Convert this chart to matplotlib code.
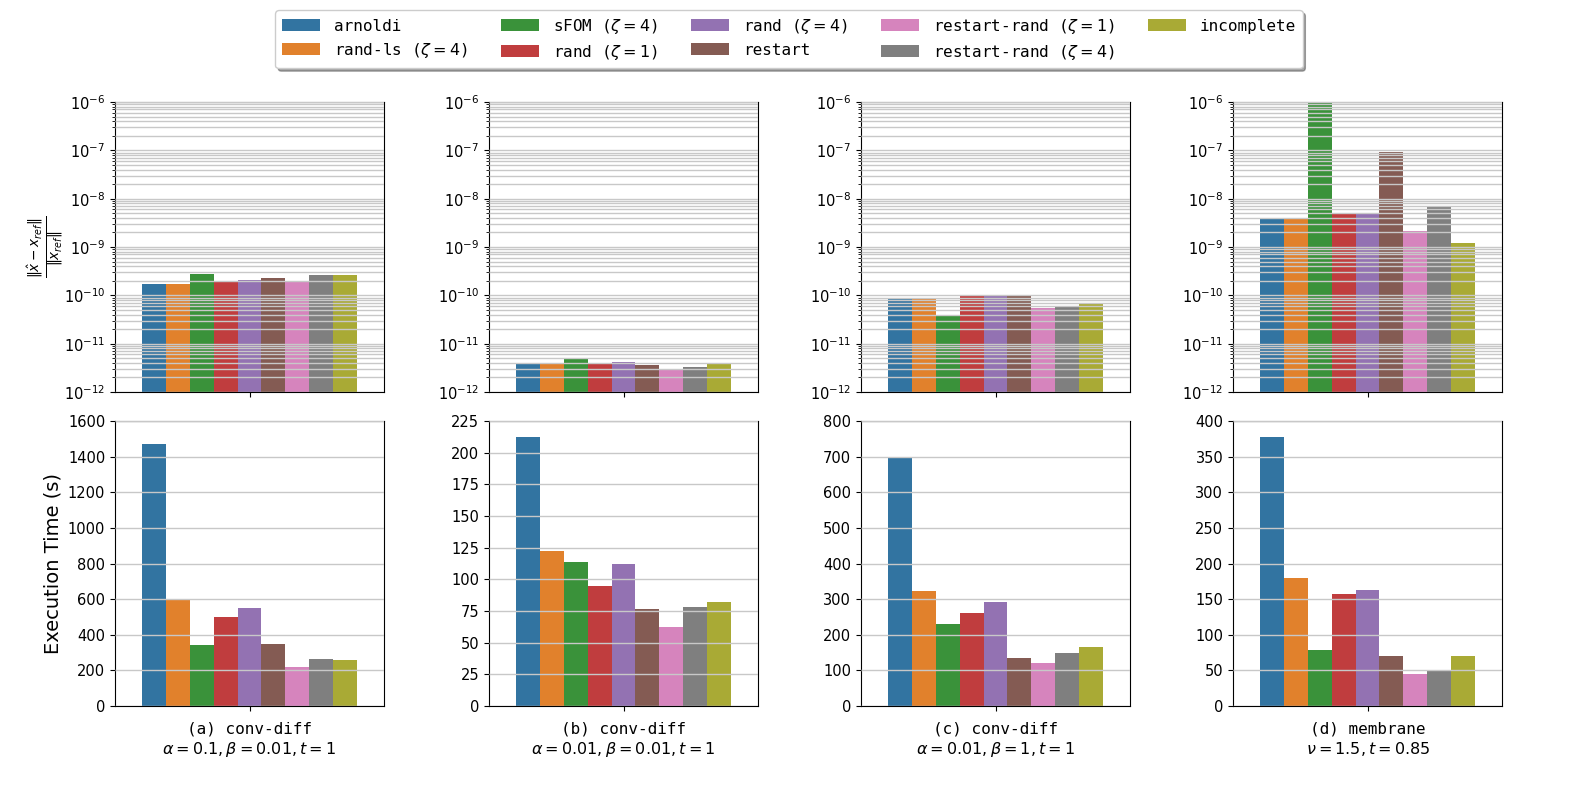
import numpy as np
import matplotlib.pyplot as plt
from matplotlib.ticker import LogLocator, MultipleLocator

methods = [r'arnoldi', r'rand-ls ($\zeta=4$)', r'sFOM ($\zeta=4$)', r'rand ($\zeta=1$)',
           r'rand ($\zeta=4$)', r'restart', r'restart-rand ($\zeta=1$)',
           r'restart-rand ($\zeta=4$)', r'incomplete']
colors = ['#3274a1', '#e1812c', '#3a923a', '#c03d3e', '#9372b2',
          '#845b53', '#d684bd', '#7f7f7f', '#a9aa35']

panel_labels = ['(a) conv-diff\n' + r'$\alpha=0.1,\beta=0.01,t=1$',
                '(b) conv-diff\n' + r'$\alpha=0.01,\beta=0.01,t=1$',
                '(c) conv-diff\n' + r'$\alpha=0.01,\beta=1,t=1$',
                '(d) membrane\n' + r'$\nu=1.5,t=0.85$']

# relative error per panel (one value per method)
err_a = [1.75e-10, 1.75e-10, 2.7e-10, 1.95e-10, 2.05e-10, 2.25e-10, 1.9e-10, 2.6e-10, 2.65e-10]
err_b = [3.9e-12, 3.9e-12, 4.9e-12, 3.9e-12, 4.1e-12, 3.55e-12, 3.0e-12, 3.35e-12, 3.8e-12]
err_c = [9.0e-11, 9.0e-11, 4.0e-11, 9.7e-11, 9.7e-11, 9.8e-11, 5.5e-11, 5.75e-11, 6.6e-11]
err_d = [3.9e-9, 3.9e-9, 1.1e-6, 4.9e-9, 4.9e-9, 9.2e-8, 2.1e-9, 6.8e-9, 1.2e-9]

# execution time (s)
time_a = [1470, 600, 340, 500, 548, 348, 217, 263, 256]
time_b = [212, 122.5, 114, 95, 112, 76.5, 62.5, 78.5, 82.5]
time_c = [698, 323, 229, 260, 293, 135, 120, 150, 166]
time_d = [377, 179, 79, 157.5, 162.5, 69.5, 44.5, 49, 70.5]

time_ymax = [1600, 225, 800, 400]
time_step = [200, 25, 100, 50]

errors = [err_a, err_b, err_c, err_d]
times = [time_a, time_b, time_c, time_d]

fig = plt.figure(figsize=(15.78, 7.89), dpi=100)
W, H = 1578, 789
lefts = [115, 489, 861, 1233]
aw = 269
n = len(methods)
bw = 0.8 / n
xs = -0.4 + bw / 2 + bw * np.arange(n)
mono = 'DejaVu Sans Mono'
grid_kw = dict(color='#c8c8c8', linewidth=1)

handles = []
for i in range(4):
    ax_t = fig.add_axes([lefts[i] / W, 1 - 392 / H, aw / W, (392 - 102) / H])
    ax_b = fig.add_axes([lefts[i] / W, 1 - 706 / H, aw / W, (706 - 421) / H])

    # error panel (log scale)
    bars = ax_t.bar(xs, errors[i], width=bw, color=colors, linewidth=0)
    ax_t.set_yscale('log')
    ax_t.set_ylim(1e-12, 1e-6)
    ax_t.yaxis.set_major_locator(LogLocator(base=10, numticks=10))
    ax_t.yaxis.set_minor_locator(LogLocator(base=10, subs=np.arange(2, 10), numticks=20))
    ax_t.grid(True, which='both', axis='y', **grid_kw)
    ax_t.set_axisbelow(False)
    ax_t.set_xlim(-0.5, 0.5)
    ax_t.set_xticks([0])
    ax_t.set_xticklabels([''])
    ax_t.tick_params(labelsize=10.5)
    if i == 0:
        ax_t.set_ylabel(r'$\frac{\|\hat{x}-x_{ref}\|}{\|x_{ref}\|}$', fontsize=14,
                        labelpad=-2)
        handles = bars

    # execution time panel
    ax_b.bar(xs, times[i], width=bw, color=colors, linewidth=0)
    ax_b.set_ylim(0, time_ymax[i])
    ax_b.yaxis.set_major_locator(MultipleLocator(time_step[i]))
    ax_b.grid(True, axis='y', **grid_kw)
    ax_b.set_axisbelow(False)
    ax_b.set_xlim(-0.5, 0.5)
    ax_b.set_xticks([0])
    ax_b.set_xticklabels([''])
    ax_b.tick_params(labelsize=10.5)
    ax_b.set_xlabel(panel_labels[i], fontsize=11.5, family=mono, linespacing=1.3)
    if i == 0:
        ax_b.set_ylabel('Execution Time (s)', fontsize=14)

fig.legend(handles, methods, loc='upper center', bbox_to_anchor=(0.5, 0.997),
           ncol=5, shadow=True, prop={'family': mono, 'size': 11.5},
           handlelength=2.4, handleheight=0.8, handletextpad=0.85,
           columnspacing=2.1, labelspacing=0.45)

plt.savefig('out.png', dpi=100)
plt.close()
